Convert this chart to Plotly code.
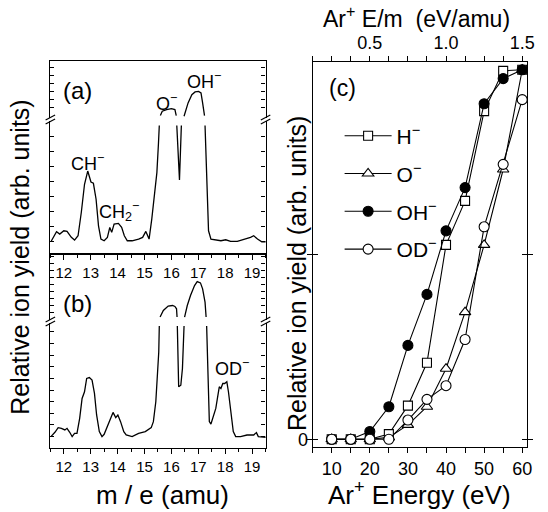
import plotly.graph_objects as go

W, H = 548, 512

# ---------------- Panel (a): mass spectrum (display units, None = axis-break gap)
mass_a = [11.52, 11.73, 11.85, 12.00, 12.12, 12.28, 12.40, 12.53, 12.65, 12.77, 12.89, 12.95,
          13.01, 13.10, 13.20, 13.29, 13.38, 13.50, 13.62, 13.71, 13.78, 13.87, 14.03, 14.15,
          14.25, 14.36, 14.54, 14.78, 14.93, 15.05, 15.17, 15.27, 15.37, 15.46, 15.52, 15.55,
          None, 15.59, 15.66, 15.82, 16.00, 16.13, 16.18,
          None, 16.20, 16.30, 16.37,
          None, 16.47, 16.62, 16.76, 16.88, 17.01, 17.10, 17.16, 17.23,
          None, 17.25, 17.32, 17.38, 17.47, 17.65, 17.84, 18.02, 18.20, 18.45, 18.69, 18.94,
          19.06, 19.20, 19.36, 19.52]
yield_a = [-0.07, 0.93, 0.70, 1.03, 0.97, 0.37, 0.10, 0.53, 2.87, 5.70, 7.03, 6.53,
           5.93, 5.80, 4.20, 1.53, 0.20, 0.03, 0.37, 1.37, 0.87, 1.70, 1.77, 1.37,
           0.53, 0.03, 0.03, 0.20, 0.37, 0.97, 0.20, 2.20, 4.53, 6.87, 9.87, 11.60,
           None, 12.60, 13.03, 13.20, 13.30, 13.20, 12.60,
           None, 11.60, 6.13, 11.60,
           None, 12.53, 13.87, 14.70, 14.97, 15.03, 14.87, 13.87, 12.60,
           None, 11.60, 5.53, 1.03, 0.20, 0.10, 0.03, 0.13, -0.03, -0.03, 0.13, 0.37,
           0.53, 0.20, -0.07, -0.07]

# ---------------- Panel (b): mass spectrum
mass_b = [11.52, 11.67, 11.79, 11.91, 12.04, 12.12, 12.22, 12.31, 12.40, 12.49, 12.59, 12.68,
          12.77, 12.85, 12.95, 13.05, 13.14, 13.22, 13.32, 13.42, 13.50, 13.62, 13.75, 13.83,
          13.93, 14.01, 14.11, 14.23, 14.32, 14.54, 14.78, 15.03, 15.25, 15.33, 15.42, 15.48,
          15.53, 15.55,
          None, 15.58, 15.70, 15.88, 16.04, 16.13, 16.19, 16.21,
          None, 16.22, 16.27, 16.35, 16.41, 16.47,
          None, 16.49, 16.59, 16.71, 16.86, 16.96, 17.08, 17.16, 17.25, 17.29,
          None, 17.31, 17.35, 17.41, 17.47, 17.57, 17.65, 17.71, 17.78, 17.84, 17.91, 17.98,
          18.06, 18.12, 18.20, 18.30, 18.39, 18.57, 18.81, 19.06, 19.16, 19.23, 19.52]
yield_b = [0.00, 0.43, 0.90, 0.83, 0.67, 0.83, 0.43, 0.00, 0.33, 0.33, 1.83, 3.83,
           4.50, 5.83, 5.93, 5.67, 4.33, 2.17, 0.50, 0.00, 0.23, 1.00, 2.00, 2.43,
           1.90, 2.17, 1.50, 0.50, 0.16, 0.00, 0.33, 0.50, 0.90, 1.50, 3.50, 5.83,
           8.50, 11.10,
           None, 12.00, 12.66, 13.10, 13.16, 13.06, 12.83, 12.00,
           None, 11.10, 5.00, 5.16, 6.83, 11.10,
           None, 12.00, 13.16, 14.16, 15.16, 15.56, 15.43, 14.83, 13.50, 12.00,
           None, 11.10, 6.83, 1.50, 1.26, 2.16, 2.83, 3.83, 5.00, 4.83, 5.33, 5.33,
           5.50, 4.50, 2.83, 0.50, 0.00, 0.00, 0.16, 0.16, 0.40, 0.00, -0.07]

# ---------------- Panel (c): ion yield vs Ar+ energy
energy = [10, 15, 20, 25, 30, 35, 40, 45, 50, 55, 60]
h_minus = [0, 0, 0, 0.014, 0.091, 0.207, 0.526, 0.645, 0.888, 0.997, 1.0]
o_minus = [0, 0, 0, 0.005, 0.039, 0.088, 0.191, 0.344, 0.526, 0.730, 1.0]
oh_minus = [0, 0, 0.021, 0.088, 0.254, 0.392, 0.564, 0.681, 0.908, 0.976, 1.0]
od_minus = [0, 0, 0, 0, 0.052, 0.108, 0.145, 0.270, 0.575, 0.744, 0.919]
AR_MASS = 40.0  # amu, for top E/m axis

FONT = "Liberation Sans, Arial, Helvetica, sans-serif"


def px(x):
    return x / W


def py(y):
    return 1 - y / H


fig = go.Figure()

line_style = dict(color="black", width=1.3)
fig.add_trace(go.Scatter(x=mass_a, y=yield_a, mode="lines", line=line_style,
                         xaxis="x", yaxis="y", showlegend=False, connectgaps=False))
fig.add_trace(go.Scatter(x=mass_b, y=yield_b, mode="lines", line=line_style,
                         xaxis="x2", yaxis="y2", showlegend=False, connectgaps=False))

# drawing order: triangles, squares, filled circles, open circles
series = [
    ("O<sup>−</sup>", o_minus, "triangle-up", "white", 2),
    ("H<sup>−</sup>", h_minus, "square", "white", 1),
    ("OH<sup>−</sup>", oh_minus, "circle", "black", 3),
    ("OD<sup>−</sup>", od_minus, "circle", "white", 4),
]
for name, vals, sym, fill, rank in series:
    fig.add_trace(go.Scatter(
        x=energy, y=vals, mode="lines+markers", name=name,
        line=dict(color="black", width=1.1),
        marker=dict(symbol=sym, size=10 if sym != "square" else 9, color=fill,
                    line=dict(color="black", width=1.1)),
        xaxis="x3", yaxis="y3", legendrank=rank, legendgroup=name))

# invisible trace to activate top E/m axis
fig.add_trace(go.Scatter(x=[e / AR_MASS for e in energy], y=oh_minus, mode="markers",
                         marker=dict(opacity=0), xaxis="x4", yaxis="y3",
                         showlegend=False, hoverinfo="skip"))

ax_common = dict(showline=True, linecolor="black", linewidth=1.2, showgrid=False,
                 zeroline=False, tickcolor="black", tickwidth=1.1,
                 tickfont=dict(family=FONT, size=15, color="black"))

xa = dict(ax_common, range=[11.5, 19.5], tickmode="linear", tick0=0, dtick=1,
          ticks="outside", ticklen=5, mirror=True,
          minor=dict(ticks="outside", ticklen=3, tick0=0, dtick=0.5, tickcolor="black"))

yticks_a = [0, 1.5, 3, 4.5, 6, 7.5, 9, 10.5, 13.4, 14.2, 15.0, 15.8, 16.6, 17.4]
yticks_b = [0, 1.17, 2.33, 3.5, 4.67, 5.83, 7.0, 8.17, 9.33, 10.5,
            12.5, 13.2, 13.9, 14.6, 15.3, 16.0, 16.7, 17.4, 18.1]
ya = dict(ax_common, tickmode="array", ticks="inside", ticklen=4,
          showticklabels=False, mirror="allticks")

fig.update_layout(
    width=W, height=H, margin=dict(l=0, r=0, t=0, b=0),
    paper_bgcolor="white", plot_bgcolor="white",
    font=dict(family=FONT, color="black"),
    xaxis=dict(xa, domain=[px(51), px(269)], anchor="y"),
    yaxis=dict(ya, domain=[py(255), py(61.5)], range=[-1.3, 18.05],
               tickvals=yticks_a, anchor="x"),
    xaxis2=dict(xa, domain=[px(51), px(269)], anchor="y2"),
    yaxis2=dict(ya, domain=[py(450), py(255)], range=[-1.17, 18.33],
                tickvals=yticks_b, anchor="x2"),
    xaxis3=dict(ax_common, domain=[px(316.7), px(534)], range=[5, 61.3], anchor="y3",
                tickmode="linear", tick0=0, dtick=10, ticks="outside", ticklen=5,
                mirror=True, tickfont=dict(family=FONT, size=18, color="black"),
                minor=dict(ticks="outside", ticklen=5, tick0=0, dtick=5, tickcolor="black")),
    xaxis4=dict(ax_common, overlaying="x3", side="top", anchor="y3",
                range=[5 / AR_MASS, 61.3 / AR_MASS], showline=False,
                tickmode="array", tickvals=[k * 0.125 for k in range(1, 13)],
                ticktext=["0.5" if k == 4 else "1.0" if k == 8 else "1.5" if k == 12 else ""
                          for k in range(1, 13)],
                ticks="outside", ticklen=5,
                tickfont=dict(family=FONT, size=18, color="black")),
    yaxis3=dict(ax_common, domain=[py(449), py(62)], range=[-0.0216, 1.0216], anchor="x3",
                tickmode="array", tickvals=[0, 0.5], ticktext=["0", ""],
                ticks="inside", ticklen=5, mirror="allticks",
                tickfont=dict(family=FONT, size=18, color="black")),
    legend=dict(x=px(344), y=py(116), xanchor="left", yanchor="top",
                font=dict(family=FONT, size=21, color="black"),
                bgcolor="rgba(0,0,0,0)", tracegroupgap=7.5, itemwidth=47),
)


def add_break(xdom, yref, b):
    for xd in (0, 1):
        fig.add_shape(type="line", xref=xdom, yref=yref, x0=xd, x1=xd,
                      y0=b - 0.15, y1=b + 0.15, line=dict(color="white", width=5),
                      layer="above")
        for off in (-0.2, 0.2):
            fig.add_shape(type="line", xref=xdom, yref=yref,
                          x0=xd - 0.022, x1=xd + 0.022,
                          y0=b + off - 0.25, y1=b + off + 0.25,
                          line=dict(color="black", width=1.2), layer="above")


add_break("x domain", "y", 12.2)
add_break("x2 domain", "y2", 11.56)


def note(text, x, y, size, angle=0):
    fig.add_annotation(text=text, x=px(x), y=py(y), xref="paper", yref="paper",
                       showarrow=False, xanchor="center", yanchor="middle",
                       textangle=angle, font=dict(family=FONT, size=size, color="black"))


# panel labels and peak labels
note("(a)", 78, 91, 24)
note("(b)", 78, 305, 24)
note("(c)", 347, 88, 23)
note("CH<sup>−</sup>", 89, 163, 18)
note("CH<sub>2</sub><sup>−</sup>", 121, 212, 18)
note("O<sup>−</sup>", 169, 103, 18)
note("OH<sup>−</sup>", 207, 81, 18)
note("OD<sup>−</sup>", 235, 369, 18)

# axis titles
note("Relative ion yield (arb. units)", 20, 258, 25, -90)
note("Relative ion yield (arb. units)", 301, 275, 25, -90)
note("m / e (amu)", 165, 497, 26)
note("Ar<sup>+</sup> Energy (eV)", 425, 495, 26)
note("Ar<sup>+</sup> E/m  (eV/amu)", 422, 17, 23)

fig.write_html("out.html")
